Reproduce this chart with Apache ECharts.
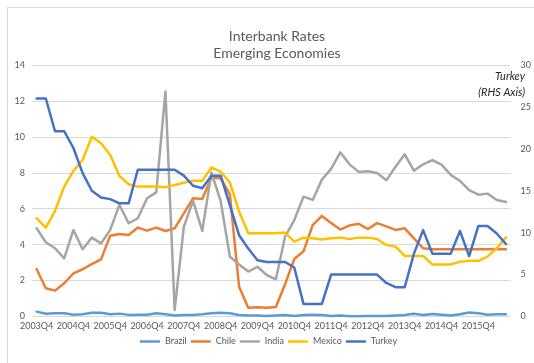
<!DOCTYPE html>
<html>
<head>
<meta charset="utf-8">
<script src="https://cdn.jsdelivr.net/npm/echarts/dist/echarts.min.js"></script>
<style>
  html, body { margin: 0; padding: 0; background: #ffffff; }
  #chart { width: 534px; height: 363px; }
</style>
</head>
<body>
<div id="chart"></div>
<script>
// Quarterly categories, 2003Q4 to 2016Q3
const quarters = [
  '2003Q4',
  '2004Q1','2004Q2','2004Q3','2004Q4',
  '2005Q1','2005Q2','2005Q3','2005Q4',
  '2006Q1','2006Q2','2006Q3','2006Q4',
  '2007Q1','2007Q2','2007Q3','2007Q4',
  '2008Q1','2008Q2','2008Q3','2008Q4',
  '2009Q1','2009Q2','2009Q3','2009Q4',
  '2010Q1','2010Q2','2010Q3','2010Q4',
  '2011Q1','2011Q2','2011Q3','2011Q4',
  '2012Q1','2012Q2','2012Q3','2012Q4',
  '2013Q1','2013Q2','2013Q3','2013Q4',
  '2014Q1','2014Q2','2014Q3','2014Q4',
  '2015Q1','2015Q2','2015Q3','2015Q4',
  '2016Q1','2016Q2','2016Q3'
];

// Interbank rates, % (left axis)
const brazil = [0.27,0.15,0.18,0.18,0.10,0.12,0.21,0.21,0.13,0.16,
                0.09,0.10,0.10,0.18,0.12,0.06,0.08,0.08,0.12,0.18,
                0.21,0.18,0.08,0.05,0.05,0.03,0.05,0.08,0.03,0.08,
                0.10,0.08,0.03,0.05,0.02,0.02,0.03,0.03,0.03,0.05,
                0.08,0.15,0.08,0.14,0.10,0.05,0.12,0.22,0.18,0.10,
                0.12,0.12];
const chile  = [2.64,1.57,1.44,1.85,2.40,2.63,2.92,3.18,4.50,4.59,
                4.54,4.95,4.78,4.95,4.76,4.91,5.74,6.58,6.54,7.73,
                7.69,6.80,1.66,0.49,0.51,0.49,0.53,1.80,3.20,3.63,
                5.09,5.60,5.20,4.84,5.07,5.16,4.87,5.20,5.02,4.82,
                4.91,4.35,3.80,3.74,3.74,3.74,3.74,3.74,3.74,3.74,
                3.74,3.74];
const india  = [4.91,4.13,3.80,3.24,4.82,3.74,4.39,4.07,4.82,6.21,
                5.19,5.47,6.58,6.91,12.52,0.36,5.00,6.43,4.76,8.01,
                6.43,3.33,2.90,2.50,2.77,2.31,2.07,4.45,5.37,6.67,
                6.49,7.62,8.22,9.14,8.47,8.05,8.08,7.99,7.58,8.34,
                9.03,8.12,8.47,8.71,8.45,7.88,7.55,7.04,6.78,6.84,
                6.49,6.37];
const mexico = [5.47,4.95,5.87,7.23,8.10,8.71,10.01,9.64,8.99,7.82,
                7.36,7.23,7.23,7.23,7.19,7.32,7.45,7.56,7.56,8.29,
                8.06,7.47,5.84,4.63,4.63,4.63,4.63,4.67,4.17,4.39,
                4.35,4.28,4.35,4.39,4.31,4.39,4.39,4.31,3.98,3.89,
                3.37,3.37,3.37,2.90,2.90,2.90,3.05,3.10,3.10,3.33,
                3.80,4.41];
// Turkey, % (right axis)
const turkey = [26.0,26.0,22.1,22.1,20.1,17.1,15.0,14.2,14.0,13.5,
                13.5,17.5,17.5,17.5,17.5,17.5,16.8,15.6,15.3,16.8,
                16.8,13.3,9.7,8.1,6.7,6.5,6.5,6.5,5.85,1.5,
                1.5,1.5,5.0,5.0,5.0,5.0,5.0,5.0,4.0,3.5,
                3.5,7.5,10.3,7.5,7.5,7.5,10.2,7.2,10.8,10.8,
                9.9,8.65];

// Axis ranges
const leftMax = 14, leftStep = 2;
const rightMax = 30, rightStep = 5;

const FONT = 'Lato, "Liberation Sans", sans-serif';
const GREY_TEXT = '#595959';
const GRID_LINE = '#D9D9D9';

const palette = {
  Brazil: '#5B9BD5',
  Chile:  '#ED7D31',
  India:  '#A5A5A5',
  Mexico: '#FFC000',
  Turkey: '#4472C4'
};

function lineSeries(name, data, axisIndex) {
  return {
    name: name,
    type: 'line',
    data: data,
    yAxisIndex: axisIndex,
    symbol: 'none',
    smooth: false,
    lineStyle: { width: 2.5, color: palette[name], cap: 'round', join: 'round' },
    itemStyle: { color: palette[name] }
  };
}

const chart = echarts.init(document.getElementById('chart'), null, { renderer: 'canvas' });

chart.setOption({
  animation: false,
  backgroundColor: '#ffffff',
  title: {
    text: 'Interbank Rates\nEmerging Economies',
    left: 272,
    top: 23,
    textAlign: 'center',
    textStyle: {
      fontFamily: FONT,
      fontSize: 14,
      lineHeight: 17,
      fontWeight: 'normal',
      color: GREY_TEXT
    }
  },
  graphic: [
    {
      type: 'rect',
      z: -10,
      shape: { x: 7.5, y: 7.5, width: 800, height: 800 },
      style: { fill: 'none', stroke: GRID_LINE, lineWidth: 1 }
    },
    {
      type: 'text',
      x: 525, y: 76,
      style: {
        text: 'Turkey',
        textAlign: 'right',
        verticalAlign: 'middle',
        fontFamily: FONT,
        fontStyle: 'italic',
        fontSize: 11,
        fill: '#262626'
      }
    },
    {
      type: 'text',
      x: 525, y: 92,
      style: {
        text: '(RHS Axis)',
        textAlign: 'right',
        verticalAlign: 'middle',
        fontFamily: FONT,
        fontStyle: 'italic',
        fontSize: 11,
        fill: '#262626'
      }
    }
  ],
  legend: {
    left: 135,
    top: 332,
    icon: 'rect',
    itemWidth: 20,
    itemHeight: 2.5,
    itemGap: 4,
    textStyle: { fontFamily: FONT, fontSize: 9, color: GREY_TEXT },
    data: ['Brazil', 'Chile', 'India', 'Mexico', 'Turkey']
  },
  grid: { left: 32, right: 17, top: 65, bottom: 46.5, containLabel: false },
  xAxis: {
    type: 'category',
    data: quarters,
    boundaryGap: true,
    axisTick: { show: false },
    axisLine: { show: true, lineStyle: { color: GRID_LINE, width: 1 } },
    axisLabel: {
      interval: 3,
      margin: 5,
      fontFamily: FONT,
      fontSize: 9,
      color: GREY_TEXT
    }
  },
  yAxis: [
    {
      type: 'value',
      min: 0, max: leftMax, interval: leftStep,
      axisLine: { show: false },
      axisTick: { show: false },
      axisLabel: { margin: 7, fontFamily: FONT, fontSize: 9, color: GREY_TEXT },
      splitLine: { show: true, lineStyle: { color: GRID_LINE, width: 1 } }
    },
    {
      type: 'value',
      position: 'right',
      min: 0, max: rightMax, interval: rightStep,
      axisLine: { show: false },
      axisTick: { show: false },
      axisLabel: { margin: 10, fontFamily: FONT, fontSize: 9, color: GREY_TEXT },
      splitLine: { show: false }
    }
  ],
  series: [
    lineSeries('Brazil', brazil, 0),
    lineSeries('Chile', chile, 0),
    lineSeries('India', india, 0),
    lineSeries('Mexico', mexico, 0),
    lineSeries('Turkey', turkey, 1)
  ]
});
</script>
</body>
</html>
